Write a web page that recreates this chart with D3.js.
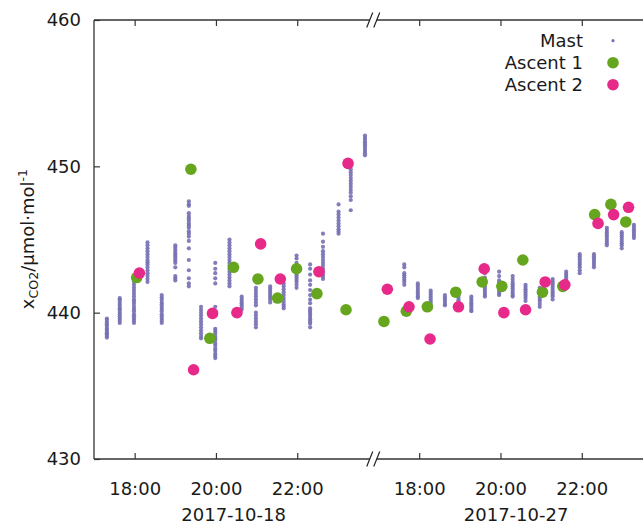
<!DOCTYPE html>
<html><head><meta charset="utf-8">
<script src="https://cdn.jsdelivr.net/npm/d3@7"></script>
<style>
html,body{margin:0;padding:0;background:#fff;}
svg text{font-family:"DejaVu Sans",sans-serif;fill:#1a1a1a;}
</style></head><body>
<svg id="chart" width="643" height="526"></svg>
<script>
// ---------- data ----------
const yTicks = [430, 440, 450, 460];
const hourTicks = ["18:00", "20:00", "22:00"];
const days = ["2017-10-18", "2017-10-27"];
const seriesNames = ["Mast", "Ascent 1", "Ascent 2"];

// mast profiles: [time, [xCO2 values]]
const mastDay1 = [
  ["17:19", [439.6,439.5,439.35,439.2,439.1,438.95,438.85,438.7,438.6,438.5,438.4,438.3]],
  ["17:38", [441.0,440.9,440.75,440.6,440.45,440.3,440.2,440.05,439.9,439.75,439.6,439.45,439.3]],
  ["17:59", [442.1,441.9,441.7,441.5,441.3,441.1,440.9,440.75,440.6,440.4,440.25,440.1,439.9,439.75,439.6,439.45,439.3]],
  ["18:19", [444.8,444.6,444.4,444.2,444.0,443.8,443.6,443.45,443.3,443.1,442.9,442.7,442.5,442.3,442.1]],
  ["18:40", [441.2,441.05,440.9,440.7,440.55,440.4,440.25,440.1,439.9,439.75,439.6,439.45,439.3]],
  ["19:00", [444.6,444.45,444.3,444.15,444.0,443.85,443.7,443.55,443.4,443.1,442.5,442.35,442.2]],
  ["19:20", [447.6,447.4,447.3,446.8,446.6,446.45,446.3,446.1,445.95,445.8,445.55,445.4,445.2,444.9,444.4,443.6,442.9,442.35,442.0,441.8]],
  ["19:38", [440.4,440.2,440.0,439.8,439.6,439.4,439.2,439.0,438.8,438.6,438.4,438.25]],
  ["19:59", [443.4,443.0,442.7,442.35,442.0,440.4,440.0,438.9,438.75,438.6,438.4,438.25,438.1,437.9,437.75,437.55,437.4,437.2,437.05,436.9]],
  ["20:20", [445.0,444.8,444.6,444.4,444.2,444.0,443.8,443.6,443.4,443.2,443.0,442.8,442.6,442.4,442.2,442.0,441.8]],
  ["20:38", [441.1,440.95,440.8,440.65,440.5,440.35,440.2]],
  ["20:59", [441.7,441.5,441.3,441.1,440.9,440.7,440.5,440.0,439.8,439.6,439.4,439.2,439.0]],
  ["21:20", [441.8,441.65,441.5,441.35,441.2,441.05,440.9,440.7]],
  ["21:40", [442.0,441.8,441.6,441.4,441.2,441.0,440.8,440.6,440.45,440.3]],
  ["21:59", [443.9,443.7,443.4,443.2,443.0,442.85,442.7,442.55,442.4,442.25,442.1,441.9,441.7]],
  ["22:19", [443.3,443.0,442.6,442.2,441.9,441.55,441.2,440.9,440.65,440.3,440.15,440.0,439.85,439.7,439.55,439.4,439.25,439.0]],
  ["22:38", [445.4,444.85,444.5,444.2,444.0,443.8,443.6,443.4,443.2,443.0,442.8,442.6,442.45,442.3]],
  ["23:01", [447.4,446.9,446.7,446.5,446.3,446.1,445.9,445.7,445.55,445.4]],
  ["23:19", [450.2,450.0,449.8,449.6,449.4,449.2,449.0,448.8,448.6,448.4,448.2,447.95,447.7,447.0]],
  ["23:40", [452.1,451.95,451.8,451.65,451.5,451.35,451.2,451.05,450.9,450.75]]
];
const mastDay2 = [
  ["17:38", [443.3,443.1,442.7,442.55,442.4,442.25,442.1,441.9]],
  ["17:58", [442.0,441.85,441.7,441.55,441.4,441.25,441.1,441.0]],
  ["18:17", [441.5,441.35,441.2,441.05,440.9,440.75,440.6,440.45,440.3]],
  ["18:38", [441.2,441.05,440.9,440.75,440.6,440.5]],
  ["18:58", [441.3,441.15,441.0,440.85,440.7,440.55,440.4]],
  ["19:17", [441.1,440.95,440.8,440.65,440.5,440.35,440.2,440.1]],
  ["19:37", [442.7,442.4,442.1,441.95,441.8,441.65,441.5,441.35,441.2,441.1]],
  ["19:58", [442.8,442.5,442.2,442.05,441.9,441.75,441.6,441.45,441.3,441.2]],
  ["20:18", [442.5,442.3,442.1,441.95,441.8,441.65,441.5,441.35,441.2,441.1]],
  ["20:37", [441.9,441.75,441.6,441.45,441.3,441.15,441.0,440.8]],
  ["20:58", [441.7,441.55,441.4,441.25,441.1,440.95,440.8,440.6,440.4]],
  ["21:17", [442.3,442.15,442.0,441.85,441.7,441.55,441.4,441.25,441.1,440.9]],
  ["21:37", [442.8,442.65,442.5,442.35,442.2,442.05,441.9,441.8]],
  ["21:57", [444.0,443.85,443.7,443.55,443.4,443.25,443.1,442.9,442.7]],
  ["22:18", [444.0,443.85,443.7,443.55,443.4,443.25,443.1]],
  ["22:37", [445.8,445.65,445.5,445.35,445.2,445.05,444.9,444.75,444.6]],
  ["22:59", [445.5,445.35,445.2,445.05,444.9,444.75,444.6,444.4]],
  ["23:17", [446.0,445.85,445.7,445.55,445.4,445.25,445.1]]
];
const ascent1Day1 = [["18:03",442.4],["19:23",449.8],["19:51",438.25],["20:26",443.1],["21:02",442.3],["21:31",441.0],["21:59",443.0],["22:29",441.3],["23:12",440.2]];
const ascent2Day1 = [["18:07",442.7],["19:27",436.1],["19:55",439.95],["20:31",440.0],["21:06",444.7],["21:35",442.3],["22:32",442.8],["23:15",450.2]];
const ascent1Day2 = [["17:08",439.4],["17:41",440.1],["18:12",440.4],["18:54",441.4],["19:33",442.1],["20:02",441.8],["20:33",443.6],["21:02",441.4],["21:32",441.8],["22:19",446.7],["22:43",447.4],["23:05",446.2]];
const ascent2Day2 = [["17:13",441.6],["17:45",440.4],["18:16",438.2],["18:58",440.4],["19:36",443.0],["20:05",440.0],["20:37",440.2],["21:06",442.1],["21:35",441.9],["22:24",446.1],["22:47",446.7],["23:09",447.2]];

// ---------- layout ----------
const colors = {mast: "#7570b3", a1: "#66a61e", a2: "#e7298a"};
const dayShift = [0, 7];          // hours the second day is shifted on the continuous axis
const breakAt = 23.87;            // axis break position (continuous hours)
const plotL = 94, plotR = 659, plotT = 20, plotB = 459;

const hrs = s => { const [h, m] = s.split(":").map(Number); return h + m / 60; };
const x = d3.scaleLinear().domain([17, 30.9]).range([plotL, plotR]);
const y = d3.scaleLinear().domain([430, 460]).range([plotB, plotT]);

const svg = d3.select("#chart");
const fs = 18;

const tickVals = [], tickLabs = [];
days.forEach((d, di) => hourTicks.forEach(t => { tickVals.push(hrs(t) + dayShift[di]); tickLabs.push(t); }));

const gB = svg.append("g").attr("transform", `translate(0,${plotB})`)
  .call(d3.axisBottom(x).tickValues(tickVals).tickFormat((d, i) => tickLabs[i])
    .tickSizeInner(-6).tickSizeOuter(0).tickPadding(23));
const gT = svg.append("g").attr("transform", `translate(0,${plotT})`)
  .call(d3.axisTop(x).tickValues(tickVals).tickFormat("").tickSizeInner(-6).tickSizeOuter(0));
const gL = svg.append("g").attr("transform", `translate(${plotL},0)`)
  .call(d3.axisLeft(y).tickValues(yTicks).tickSizeInner(-6).tickSizeOuter(0).tickPadding(13));
[gB, gT, gL].forEach(g => {
  g.select(".domain").remove();
  g.attr("font-family", null).attr("font-size", null);
  g.selectAll("text").attr("font-size", fs).style("fill", "#1a1a1a");
  g.selectAll("line").attr("stroke", "#333").attr("stroke-width", 1.2);
});

// frame
const frame = svg.append("g").attr("stroke", "#333").attr("stroke-width", 1.3).attr("fill", "none");
frame.append("line").attr("x1", plotL).attr("x2", plotL).attr("y1", plotT).attr("y2", plotB);
frame.append("line").attr("x1", plotR).attr("x2", plotR).attr("y1", plotT).attr("y2", plotB);
frame.append("line").attr("x1", plotL).attr("x2", plotR).attr("y1", plotT).attr("y2", plotT);
frame.append("line").attr("x1", plotL).attr("x2", plotR).attr("y1", plotB).attr("y2", plotB);

// axis breaks
const xb = x(breakAt);
[plotT, plotB].forEach(yy => {
  const b = svg.append("g").attr("transform", `translate(${xb},${yy})`);
  b.append("rect").attr("x", -3.5).attr("y", -2.5).attr("width", 7).attr("height", 5).attr("fill", "#fff");
  b.append("line").attr("x1", -6.5).attr("y1", 7.5).attr("x2", -0.5).attr("y2", -7.5).attr("stroke", "#222").attr("stroke-width", 1.2);
  b.append("line").attr("x1", 0.5).attr("y1", 7.5).attr("x2", 6.5).attr("y2", -7.5).attr("stroke", "#222").attr("stroke-width", 1.2);
});

// date labels, centred under each segment
const segs = [[x.domain()[0], breakAt], [breakAt, x.domain()[1]]];
days.forEach((d, i) => {
  svg.append("text").attr("x", (x(segs[i][0]) + x(segs[i][1])) / 2).attr("y", 521)
    .attr("text-anchor", "middle").attr("font-size", fs).text(d);
});

// y label
const yl = svg.append("text").attr("transform", "translate(33.5,239) rotate(-90)")
  .attr("text-anchor", "middle").attr("font-size", fs);
yl.append("tspan").text("x");
yl.append("tspan").attr("font-size", 12.6).attr("dy", 4).text("CO2");
yl.append("tspan").attr("dy", -4).text("/µmol·mol");
yl.append("tspan").attr("font-size", 12.6).attr("dy", -7).text("-1");

// marks
const mastPts = [];
[mastDay1, mastDay2].forEach((set, di) => set.forEach(([t, vals]) =>
  vals.forEach(v => mastPts.push({t: hrs(t) + dayShift[di], v}))));
svg.append("g").selectAll("circle").data(mastPts).join("circle")
  .attr("cx", d => x(d.t)).attr("cy", d => y(d.v)).attr("r", 2.1)
  .attr("fill", colors.mast).attr("fill-opacity", 0.9);

function ascents(sets, color) {
  const pts = [];
  sets.forEach((set, di) => set.forEach(([t, v]) => pts.push({t: hrs(t) + dayShift[di], v})));
  svg.append("g").selectAll("circle").data(pts).join("circle")
    .attr("cx", d => x(d.t)).attr("cy", d => y(d.v)).attr("r", 5.8).attr("fill", color);
}
ascents([ascent1Day1, ascent1Day2], colors.a1);
ascents([ascent2Day1, ascent2Day2], colors.a2);

// legend
const legR = [1.6, 5.8, 5.8], legC = [colors.mast, colors.a1, colors.a2];
seriesNames.forEach((n, i) => {
  const yy = 47 + i * 22;
  svg.append("text").attr("x", 583).attr("y", yy).attr("text-anchor", "end").attr("font-size", fs).text(n);
  svg.append("circle").attr("cx", 613).attr("cy", yy - 6.3).attr("r", legR[i]).attr("fill", legC[i]);
});
</script>
</body></html>
